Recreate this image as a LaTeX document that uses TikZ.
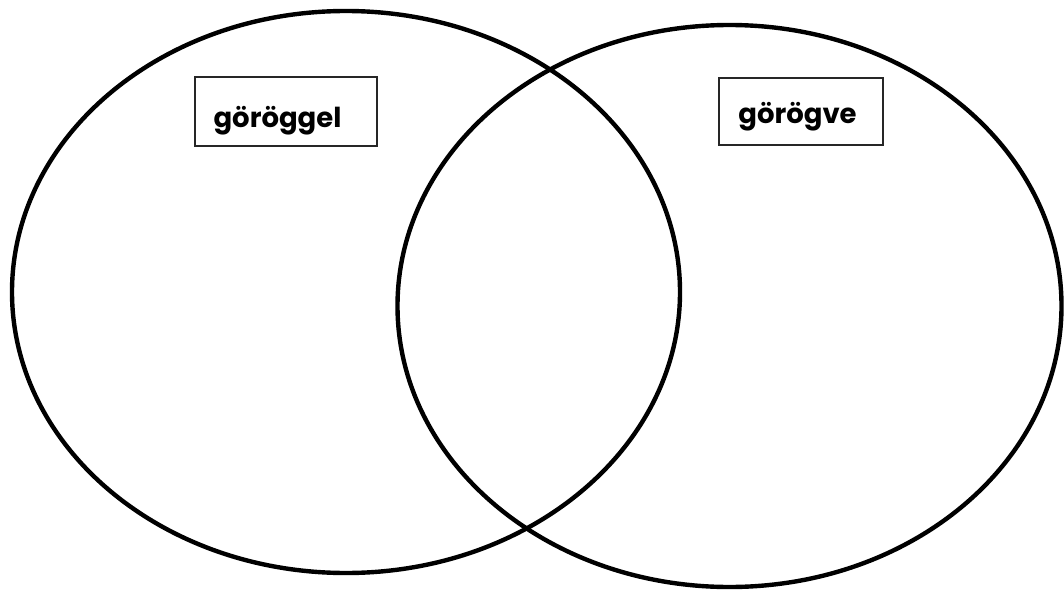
\documentclass[tikz,border=0pt]{standalone}
\usepackage{fontspec}
\setmainfont{Poppins}
\begin{document}
\begin{tikzpicture}[x=1pt,y=-1pt,
  ring/.style={draw=black,line width=4.4pt},
  labelbox/.style={draw=black!85,line width=1.8pt,rectangle,inner sep=0pt},
  labeltext/.style={font=\fontsize{27.5}{32}\selectfont\bfseries,anchor=base,inner sep=0pt}]
\useasboundingbox[fill=white] (0,0) rectangle (1064,591);
\draw[ring] (346,292) ellipse [x radius=334pt, y radius=281pt];
\draw[ring] (729.5,306) ellipse [x radius=332pt, y radius=281pt];
\node[labelbox,minimum width=182pt,minimum height=69pt] (boxL) at (286,111.5) {};
\node[labelbox,minimum width=164pt,minimum height=67pt] (boxR) at (801,111.5) {};
\node[labeltext] (txtL) at (277.5,128) {göröggel};
\node[labeltext] (txtR) at (797.5,123) {görögve};
\end{tikzpicture}
\end{document}
